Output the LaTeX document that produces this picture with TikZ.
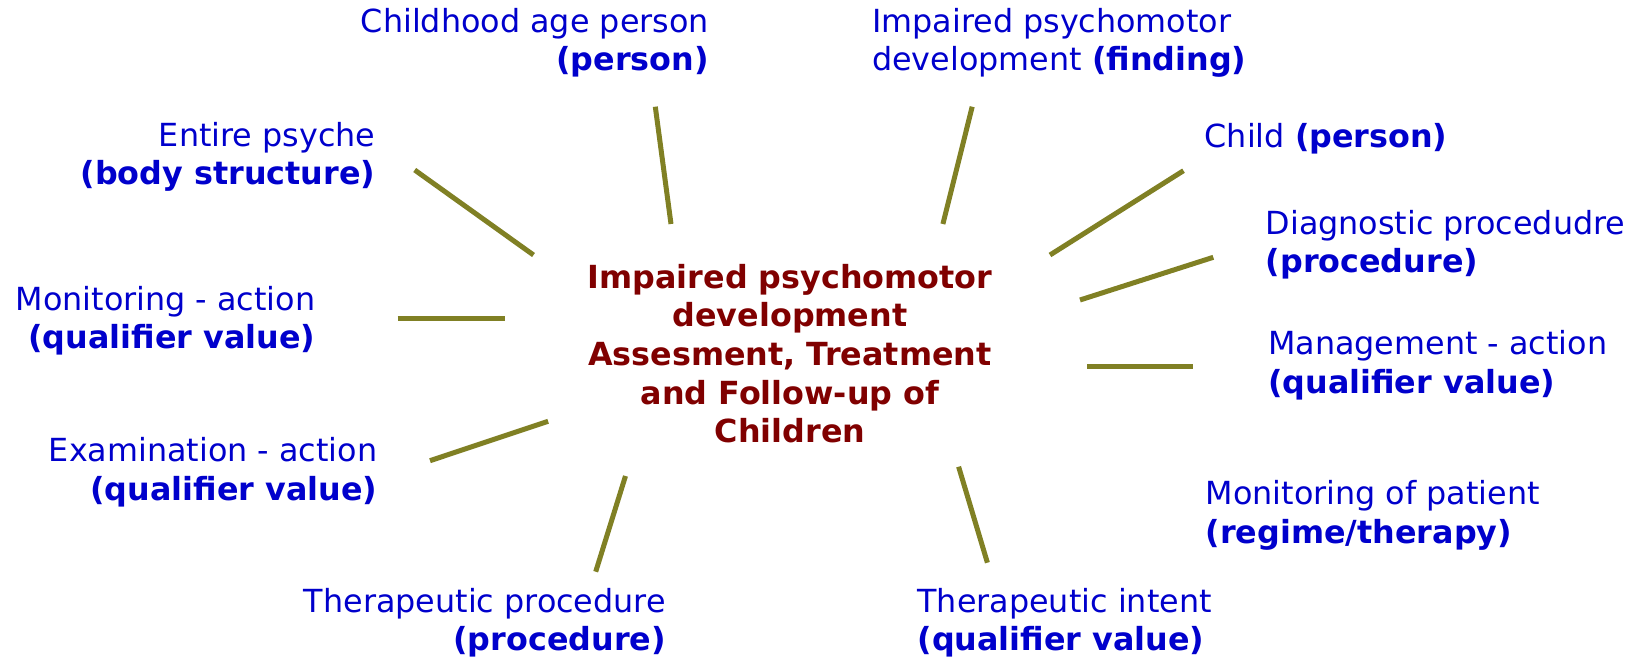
\documentclass[tikz,border=0pt]{standalone}
\usepackage{fontspec}
\setmainfont{DejaVu Sans}
\definecolor{lblblue}{RGB}{0,0,204}
\definecolor{ctrred}{RGB}{128,0,0}
\definecolor{olive}{RGB}{128,128,36}
\begin{document}
\begin{tikzpicture}[x=1pt,y=-1pt,
  lbl/.style={inner sep=0pt, text=lblblue, font=\fontsize{31.8}{38.5}\selectfont},
  lblr/.style={lbl, align=right, anchor=base east},
  lbll/.style={lbl, align=left, anchor=base west},
  ctr/.style={inner sep=0pt, text=ctrred, align=center, anchor=base, font=\fontsize{31.8}{38.6}\selectfont\bfseries},
  spoke/.style={draw=olive, line width=5pt}]
\useasboundingbox (0,0) rectangle (1642,660);
\node[ctr] (center) at (790,442.7) {Impaired psychomotor\\development\\Assesment, Treatment\\and Follow-up of\\Children};
\node[lblr] (childhood) at (709,71) {Childhood age person\\\textbf{(person)}};
\node[lbll] (impaired) at (872,71) {Impaired psychomotor\\development \textbf{(finding)}};
\node[lblr] (psyche) at (375.5,185) {Entire psyche\\\textbf{(body structure)}};
\node[lbll] (child) at (1204.5,147.7) {Child \textbf{(person)}};
\node[lbll] (diag) at (1265.5,272.7) {Diagnostic procedudre\\\textbf{(procedure)}};
\node[lblr] (monact) at (315.5,349) {Monitoring - action\\\textbf{(qualifier value)}};
\node[lbll] (mgmt) at (1268,393.3) {Management - action\\\textbf{(qualifier value)}};
\node[lblr] (exam) at (377.5,500) {Examination - action\\\textbf{(qualifier value)}};
\node[lbll] (monpat) at (1205.5,543.3) {Monitoring of patient\\\textbf{(regime/therapy)}};
\node[lblr] (therproc) at (666,650.7) {Therapeutic procedure\\\textbf{(procedure)}};
\node[lbll] (therint) at (917.3,650.7) {Therapeutic intent\\\textbf{(qualifier value)}};
% spoke end points
\coordinate (a1) at (655.3,106.7); \coordinate (b1) at (671,224);
\coordinate (a2) at (972.2,106.7); \coordinate (b2) at (942.9,224);
\coordinate (a3) at (414.7,170);   \coordinate (b3) at (533.5,255);
\coordinate (a4) at (1183.5,170.7);\coordinate (b4) at (1050,255);
\coordinate (a5) at (1213.3,257.3);\coordinate (b5) at (1080,300);
\coordinate (a6) at (397.5,319);   \coordinate (b6) at (504.7,319);
\coordinate (a7) at (1192.9,366.7);\coordinate (b7) at (1086.7,366.7);
\coordinate (a8) at (430,460.7);   \coordinate (b8) at (548.1,421.3);
\coordinate (a9) at (595.7,571.7); \coordinate (b9) at (625.5,476);
\coordinate (a10) at (987.4,562.7);\coordinate (b10) at (958.6,466.7);
\foreach \i in {1,...,10} {\draw[spoke] (a\i) -- (b\i);}
\end{tikzpicture}
\end{document}
